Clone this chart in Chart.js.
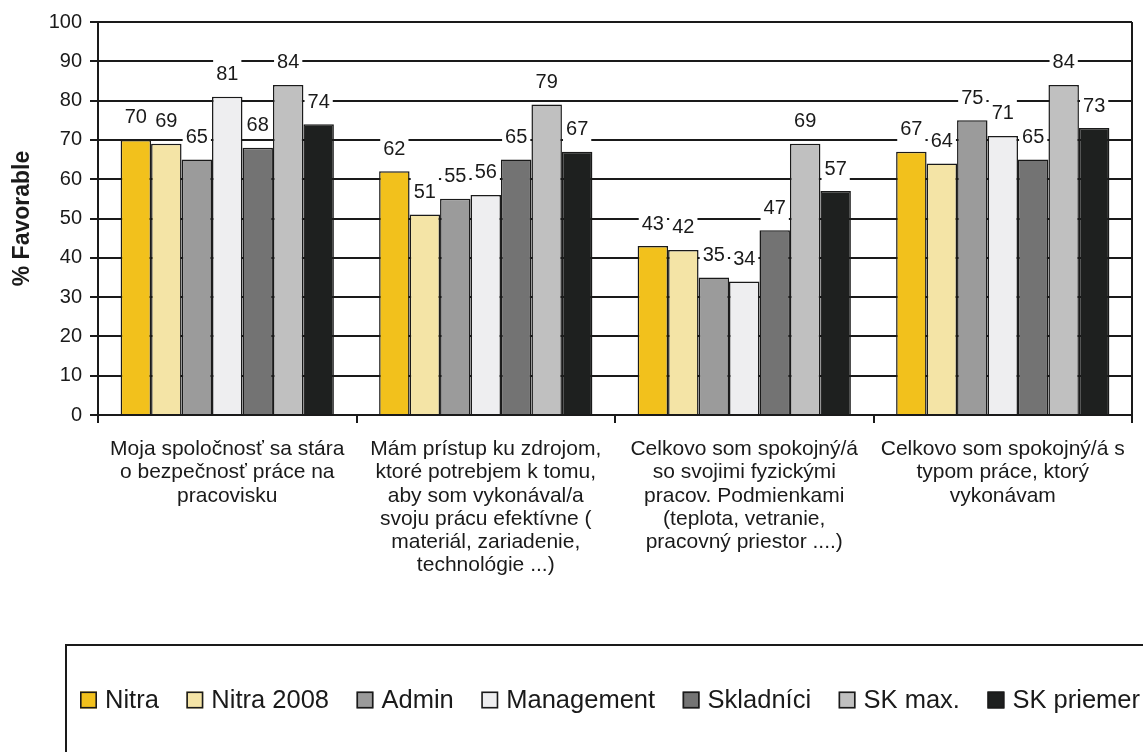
<!DOCTYPE html>
<html>
<head>
<meta charset="utf-8">
<script src="https://cdn.jsdelivr.net/npm/chart.js@4.4.1/dist/chart.umd.min.js"></script>
<style>
  html, body { margin: 0; padding: 0; background: #fff; }
  canvas { display: block; }
</style>
</head>
<body>
<canvas id="chart" width="1143" height="752"></canvas>
<script>
const categories = [
    ['Moja spoločnosť sa stára', 'o bezpečnosť práce na', 'pracovisku'],
    ['Mám prístup ku zdrojom,', 'ktoré potrebjem k tomu,', 'aby som vykonával/a', 'svoju prácu efektívne (', 'materiál, zariadenie,', 'technológie ...)'],
    ['Celkovo som spokojný/á', 'so svojimi fyzickými', 'pracov. Podmienkami', '(teplota, vetranie,', 'pracovný priestor ....)'],
    ['Celkovo som spokojný/á s', 'typom práce, ktorý', 'vykonávam']
];

const seriesNames = ['Nitra', 'Nitra 2008', 'Admin', 'Management', 'Skladníci', 'SK max.', 'SK priemer'];
const nitra      = [70, 62, 43, 67];
const nitra2008  = [69, 51, 42, 64];
const admin      = [65, 55, 35, 75];
const management = [81, 56, 34, 71];
const skladnici  = [68, 65, 47, 65];
const skMax      = [84, 79, 69, 84];
const skPriemer  = [74, 67, 57, 73];

const yMin = 0;
const yMax = 100;
const yStep = 10;
const yTitle = '% Favorable';

const seriesValues = [nitra, nitra2008, admin, management, skladnici, skMax, skPriemer];
const seriesColors = ['#f2c11c', '#f4e4a6', '#9b9b9b', '#eeeef0', '#737373', '#c0c0c0', '#1e201f'];

const FONT = "'Liberation Sans', Arial, sans-serif";
const INK = '#1a1a1a';

// value labels on white boxes above each bar
const valueLabels = {
    id: 'valueLabels',
    afterDatasetsDraw(chart) {
        const ctx = chart.ctx;
        ctx.save();
        ctx.font = '20px ' + FONT;
        ctx.textAlign = 'center';
        ctx.textBaseline = 'middle';
        chart.data.datasets.forEach((ds, i) => {
            chart.getDatasetMeta(i).data.forEach((bar, j) => {
                const text = String(ds.data[j]);
                const w = ctx.measureText(text).width;
                const y = bar.y - 23;
                ctx.fillStyle = '#fff';
                ctx.fillRect(bar.x - w / 2 - 3, y - 14, w + 6, 28);
                ctx.fillStyle = INK;
                ctx.fillText(text, bar.x, y + 1);
            });
        });
        ctx.restore();
    }
};

// right border of the plot + boxed legend at the bottom
const frameAndLegend = {
    id: 'frameAndLegend',
    afterDraw(chart) {
        const ctx = chart.ctx;
        const area = chart.chartArea;
        ctx.save();
        ctx.strokeStyle = INK;
        ctx.lineWidth = 2;
        ctx.beginPath();
        ctx.moveTo(area.right, area.top);
        ctx.lineTo(area.right, area.bottom);
        ctx.stroke();

        ctx.strokeRect(66, 645, 1200, 200);

        ctx.font = '25.5px ' + FONT;
        ctx.textBaseline = 'middle';
        let x = 80;
        const y = 700;
        chart.data.datasets.forEach(ds => {
            ctx.fillStyle = ds.backgroundColor;
            ctx.fillRect(x, y - 8.5, 17, 17);
            ctx.lineWidth = 1.6;
            ctx.strokeStyle = INK;
            ctx.strokeRect(x + 0.8, y - 7.7, 15.4, 15.4);
            ctx.fillStyle = INK;
            ctx.fillText(ds.label, x + 25, y + 1);
            x += 25 + ctx.measureText(ds.label).width + 27.5;
        });
        ctx.restore();
    }
};

new Chart(document.getElementById('chart'), {
    type: 'bar',
    data: {
        labels: categories,
        datasets: seriesNames.map((name, i) => ({
            label: name,
            data: seriesValues[i],
            backgroundColor: seriesColors[i],
            borderColor: INK,
            borderWidth: 1.5,
            barPercentage: 1,
            categoryPercentage: 0.825
        }))
    },
    options: {
        responsive: false,
        animation: false,
        devicePixelRatio: 1,
        layout: {
            padding: { top: 22, right: 11, left: 0, bottom: 0 }
        },
        plugins: {
            legend: { display: false },
            tooltip: { enabled: false }
        },
        scales: {
            x: {
                grid: {
                    offset: true,
                    drawOnChartArea: false,
                    color: INK,
                    lineWidth: 2,
                    tickLength: 8
                },
                border: { display: true, color: INK, width: 2 },
                ticks: {
                    color: INK,
                    padding: 15,
                    maxRotation: 0,
                    autoSkip: false,
                    font: { family: FONT, size: 21, lineHeight: 1.1 }
                },
                afterFit(scale) { scale.height = 752 - 415; }
            },
            y: {
                min: yMin,
                max: yMax,
                ticks: {
                    stepSize: yStep,
                    color: INK,
                    padding: 8,
                    font: { family: FONT, size: 20 }
                },
                grid: {
                    color: INK,
                    lineWidth: 2,
                    tickLength: 8
                },
                border: { display: true, color: INK, width: 2 },
                title: {
                    display: true,
                    text: yTitle,
                    color: INK,
                    padding: { top: 9, bottom: 0 },
                    font: { family: FONT, size: 23, weight: 'bold' }
                },
                afterFit(scale) { scale.width = 98; }
            }
        }
    },
    plugins: [valueLabels, frameAndLegend]
});
</script>
</body>
</html>
